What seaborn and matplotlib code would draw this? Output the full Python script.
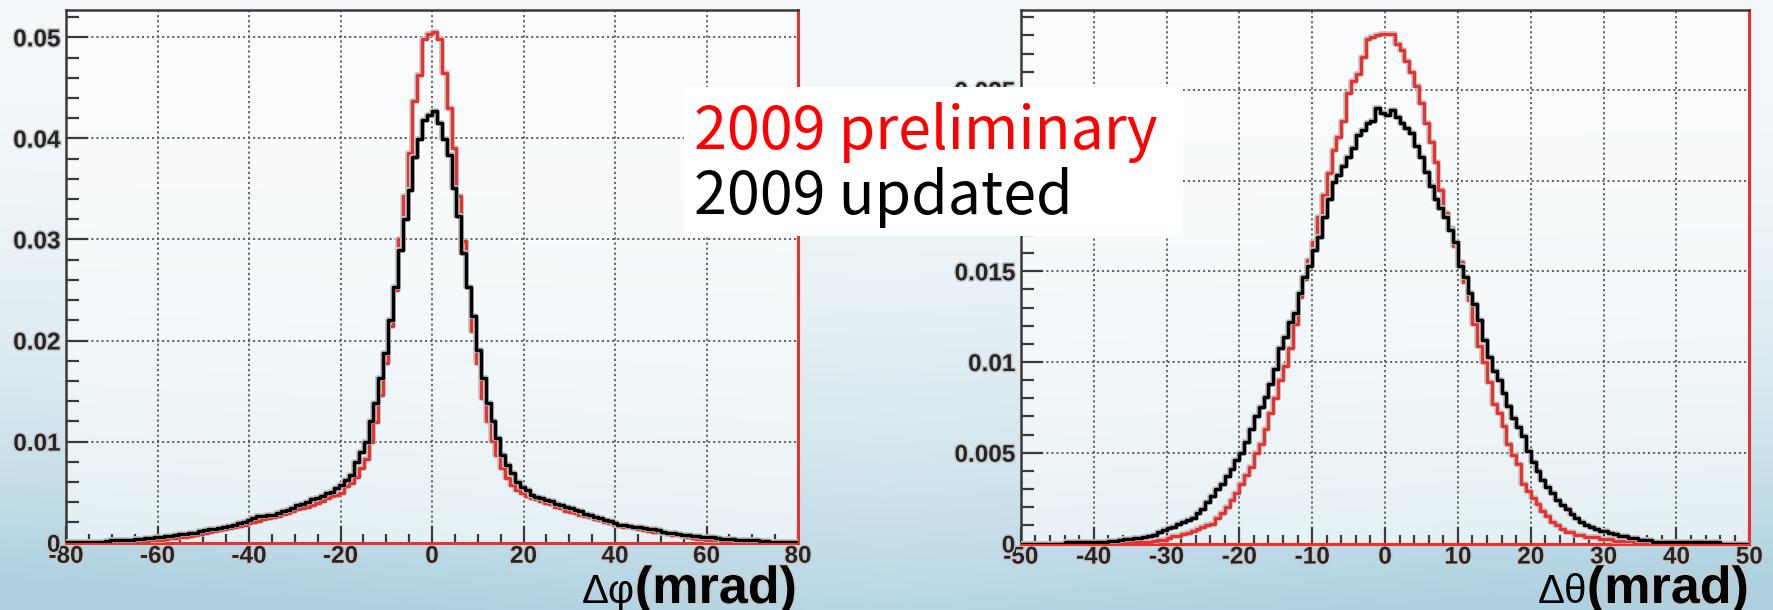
import numpy as np
import pandas as pd
import matplotlib
matplotlib.use("Agg")
import matplotlib.pyplot as plt
import matplotlib.patheffects as pe
from matplotlib.patches import Rectangle
from matplotlib.ticker import MultipleLocator, FuncFormatter
import seaborn as sns

# ---------------- data (bin contents) ----------------
phi_range = (-80.0, 80.0)
theta_range = (-50.0, 50.0)
n_bins = 150

phi_2009_preliminary = [
    0, 0, 0, 0, 0, 0, 0, 0, 0.0001, 0.0001,
    0.0001, 0.0001, 0.0001, 0.0002, 0.0002, 0.0002, 0.0002, 0.0003, 0.0003, 0.0003,
    0.0004, 0.0005, 0.0005, 0.0006, 0.0006, 0.0007, 0.0008, 0.0009, 0.0010, 0.0011,
    0.0012, 0.0013, 0.0014, 0.0015, 0.0016, 0.0017, 0.0018, 0.0019, 0.0020, 0.0021,
    0.0023, 0.0024, 0.0025, 0.0026, 0.0028, 0.0029, 0.0031, 0.0033, 0.0034, 0.0035,
    0.0037, 0.0039, 0.0041, 0.0044, 0.0046, 0.0047, 0.0049, 0.0056, 0.0059, 0.0065,
    0.0074, 0.0083, 0.0100, 0.0119, 0.0146, 0.0178, 0.0214, 0.0250, 0.0300, 0.0343,
    0.0386, 0.0437, 0.0463, 0.0498, 0.0503, 0.0505, 0.0498, 0.0465, 0.0430, 0.0390,
    0.0343, 0.0298, 0.0253, 0.0209, 0.0178, 0.0143, 0.0120, 0.0101, 0.0087, 0.0074,
    0.0064, 0.0057, 0.0052, 0.0049, 0.0046, 0.0044, 0.0043, 0.0041, 0.0039, 0.0038,
    0.0035, 0.0034, 0.0031, 0.0030, 0.0029, 0.0027, 0.0026, 0.0025, 0.0023, 0.0022,
    0.0020, 0.0019, 0.0018, 0.0017, 0.0016, 0.0016, 0.0015, 0.0014, 0.0013, 0.0012,
    0.0011, 0.0011, 0.0010, 0.0009, 0.0008, 0.0008, 0.0007, 0.0006, 0.0005, 0.0004,
    0.0004, 0.0003, 0.0003, 0.0003, 0.0002, 0.0002, 0.0002, 0.0001, 0.0001, 0.0001,
    0.0001, 0.0001, 0.0001, 0.0001, 0.0001, 0, 0, 0, 0, 0,
]

phi_2009_updated = [
    0.0001, 0.0001, 0.0001, 0.0001, 0.0001, 0.0001, 0.0001, 0.0001, 0.0002, 0.00025,
    0.00027, 0.00027, 0.0003, 0.0003, 0.00037, 0.0004, 0.00045, 0.0005, 0.00053, 0.0006,
    0.0007, 0.0007, 0.0008, 0.00086, 0.0009, 0.0010, 0.0010, 0.0012, 0.00126, 0.0014,
    0.0014, 0.0015, 0.0016, 0.0017, 0.00175, 0.0019, 0.0020, 0.0022, 0.0024, 0.0026,
    0.0026, 0.0027, 0.0027, 0.0029, 0.0031, 0.0032, 0.0034, 0.0037, 0.0038, 0.0040,
    0.0043, 0.0044, 0.0046, 0.0049, 0.0050, 0.0054, 0.0057, 0.0062, 0.0067, 0.0080,
    0.0090, 0.0100, 0.0120, 0.0138, 0.0163, 0.0188, 0.0220, 0.0253, 0.0290, 0.0320,
    0.0349, 0.0382, 0.0399, 0.0418, 0.0423, 0.0427, 0.0415, 0.0399, 0.0384, 0.0351,
    0.0323, 0.0287, 0.0253, 0.0224, 0.0191, 0.0163, 0.0138, 0.0120, 0.0104, 0.0087,
    0.0077, 0.0069, 0.0060, 0.0055, 0.0052, 0.0047, 0.0045, 0.0044, 0.0042, 0.0041,
    0.0038, 0.0037, 0.0035, 0.0034, 0.0032, 0.0031, 0.0028, 0.0027, 0.0025, 0.0024,
    0.0022, 0.0021, 0.0019, 0.0018, 0.0018, 0.0017, 0.0016, 0.0016, 0.0015, 0.0014,
    0.0014, 0.0013, 0.0011, 0.0010, 0.0010, 0.0009, 0.0008, 0.0008, 0.0007, 0.0007,
    0.0006, 0.0006, 0.0006, 0.0005, 0.0004, 0.0004, 0.0004, 0.0003, 0.0003, 0.0003,
    0.0003, 0.0003, 0.0002, 0.0002, 0.0001, 0.0001, 0.0001, 0.0001, 0.0001, 0.0001,
]

theta_2009_preliminary = [
    0, 0, 0, 0, 0, 0, 0, 0, 0, 0,
    0, 0, 0, 0, 0, 0, 0, 0, 0, 0.0001,
    0.0001, 0.0001, 0.0001, 0.0001, 0.0001, 0.0001, 0.0001, 0.00015, 0.0002, 0.0002,
    0.0003, 0.0004, 0.0004, 0.0005, 0.0006, 0.0007, 0.0008, 0.0009, 0.0010, 0.0011,
    0.0014, 0.0017, 0.0020, 0.0024, 0.0028, 0.0033, 0.0038, 0.0042, 0.0050, 0.0055,
    0.0063, 0.0072, 0.0080, 0.0090, 0.0098, 0.0108, 0.0121, 0.0136, 0.0146, 0.0156,
    0.0166, 0.0180, 0.0192, 0.0204, 0.0217, 0.0224, 0.0233, 0.0248, 0.0255, 0.0259,
    0.0268, 0.0278, 0.0279, 0.0280, 0.0281, 0.0281, 0.0281, 0.0275, 0.0272, 0.0266,
    0.0260, 0.0252, 0.0243, 0.0232, 0.0221, 0.0210, 0.0195, 0.0182, 0.0174, 0.0164,
    0.0155, 0.0144, 0.0134, 0.0121, 0.0109, 0.0100, 0.0089, 0.0077, 0.0072, 0.0065,
    0.0055, 0.0049, 0.0044, 0.0033, 0.0029, 0.0025, 0.0022, 0.0018, 0.0015, 0.0012,
    0.0010, 0.0008, 0.00065, 0.00065, 0.00047, 0.00047, 0.00034, 0.00034, 0.00034, 0.00023,
    0.00023, 0.00023, 0.00015, 0.00015, 0.00015, 0.00015, 0.0001, 0.0001, 0.0001, 0,
    0, 0, 0, 0, 0, 0, 0, 0, 0, 0,
    0, 0, 0, 0, 0, 0, 0, 0, 0, 0,
]

theta_2009_updated = [
    0, 0, 0, 0, 0, 0, 0, 0, 0, 0.0001,
    0.0001, 0.0001, 0.0001, 0.0001, 0.0001, 0.0001, 0.0001, 0.0001, 0.00015, 0.00015,
    0.0002, 0.00023, 0.00026, 0.00029, 0.00033, 0.00038, 0.00042, 0.00047, 0.00065, 0.00075,
    0.00084, 0.00093, 0.0011, 0.0012, 0.0013, 0.0014, 0.0017, 0.0019, 0.0023, 0.0026,
    0.0030, 0.0033, 0.0037, 0.0041, 0.0046, 0.0050, 0.0056, 0.0063, 0.0070, 0.0075,
    0.0081, 0.0088, 0.0096, 0.0108, 0.0114, 0.0122, 0.0127, 0.0138, 0.0147, 0.0153,
    0.0162, 0.0169, 0.0180, 0.0190, 0.0199, 0.0203, 0.0208, 0.0213, 0.0218, 0.0225,
    0.0228, 0.0232, 0.0233, 0.0240, 0.0237, 0.0236, 0.0239, 0.0235, 0.0232, 0.0229,
    0.0226, 0.0219, 0.0213, 0.0205, 0.0197, 0.0190, 0.0185, 0.0180, 0.0173, 0.0166,
    0.0153, 0.0147, 0.0138, 0.0132, 0.0123, 0.0112, 0.0103, 0.0095, 0.0090, 0.0083,
    0.0076, 0.0069, 0.0064, 0.0059, 0.0051, 0.0045, 0.0040, 0.0035, 0.0031, 0.0028,
    0.0024, 0.0021, 0.0019, 0.0016, 0.0014, 0.0012, 0.0010, 0.0009, 0.0008, 0.0007,
    0.0007, 0.0006, 0.0005, 0.0004, 0.0004, 0.0003, 0.0003, 0.0002, 0.0002, 0.0002,
    0.0001, 0.0001, 0.0001, 0.0001, 0.0001, 0.0001, 0.0001, 0.0001, 0.0001, 0.0001,
    0.0001, 0.0001, 0.0001, 0.0001, 0, 0, 0, 0, 0, 0,
]

legend_labels = ["2009 preliminary", "2009 updated"]
xlabels = [("\u0394\u03c6", "(mrad)"), ("\u0394\u03b8", "(mrad)")]

# ---------------- styling ----------------
sns.set_style("ticks")
plt.rcParams["font.family"] = ["Liberation Sans", "DejaVu Sans"]

RED = "#e8322d"
BLACK = "#000000"
FRAME = "#3a3a3a"
HALO = [pe.withStroke(linewidth=2.2, foreground="#c9c9c9")]

W, H = 1773, 610
fig = plt.figure(figsize=(W / 100, H / 100), dpi=100)

# background gradient (slide theme)
bg = fig.add_axes([0, 0, 1, 1], zorder=-10)
ny, nx = 200, 300
t = np.linspace(0, 1, ny)[:, None]
s = np.linspace(0, 1, nx)[None, :]
top = np.array([0.955, 0.972, 0.980])
bot = np.array([0.68, 0.82, 0.88])
mix = (t ** 2.2) * (0.85 + 0.25 * np.abs(s - 0.5) * 2)
mix = np.clip(mix, 0, 1)[..., None]
img = top * (1 - mix) + bot * mix
bg.imshow(img, aspect="auto", extent=[0, 1, 0, 1], origin="upper")
bg.set_axis_off()


def make_axes(left_px, right_px, top_px, bottom_px):
    return fig.add_axes([left_px / W, 1 - bottom_px / H,
                         (right_px - left_px) / W, (bottom_px - top_px) / H])


def draw_panel(ax, rng, red_vals, black_vals, ytop, xmaj, xmin_, ymaj, ymin_):
    edges = list(np.linspace(rng[0], rng[1], n_bins + 1))
    centers = [0.5 * (a + b) for a, b in zip(edges[:-1], edges[1:])]
    df = pd.DataFrame({
        "x": centers + centers,
        "w": list(red_vals) + list(black_vals),
        "series": [legend_labels[0]] * n_bins + [legend_labels[1]] * n_bins,
    })
    ax.set_facecolor((1, 1, 1, 0.6))
    for name, col, lw, z in [(legend_labels[0], RED, 2.3, 3), (legend_labels[1], BLACK, 2.5, 4)]:
        sub = df[df["series"] == name]
        sns.histplot(data=sub, x="x", weights="w", bins=edges, element="step",
                     fill=False, color=col, linewidth=lw, ax=ax, zorder=z)
    for ln in ax.lines:
        ln.set_path_effects([pe.Stroke(linewidth=ln.get_linewidth() + 1.8,
                                       foreground="#c4c4c4"), pe.Normal()])
    ax.set_xlim(rng)
    ax.set_ylim(0, ytop)
    ax.set_xlabel("")
    ax.set_ylabel("")
    ax.xaxis.set_major_locator(MultipleLocator(xmaj))
    ax.xaxis.set_minor_locator(MultipleLocator(xmin_))
    ax.yaxis.set_major_locator(MultipleLocator(ymaj))
    ax.yaxis.set_minor_locator(MultipleLocator(ymin_))
    ax.xaxis.set_major_formatter(FuncFormatter(lambda v, p: f"{v:g}"))
    ax.yaxis.set_major_formatter(FuncFormatter(lambda v, p: f"{round(v, 4):g}"))
    ax.grid(True, which="major", linestyle=(0, (1.2, 1.6)), color="#5a5a5a",
            linewidth=1.3, zorder=1)
    ax.set_axisbelow(True)
    ax.tick_params(which="both", direction="in", color=FRAME, width=1.6,
                   top=False, right=False)
    ax.tick_params(axis="y", which="major", length=16, pad=4, labelsize=17.5)
    ax.tick_params(axis="y", which="minor", length=9)
    ax.tick_params(axis="x", which="major", length=12, pad=1.5, labelsize=17.5)
    ax.tick_params(axis="x", which="minor", length=6.5)
    for lab in ax.get_xticklabels() + ax.get_yticklabels():
        lab.set_fontweight("bold")
        lab.set_path_effects(HALO)
    for side in ["left", "top"]:
        ax.spines[side].set_color(FRAME)
        ax.spines[side].set_linewidth(1.8)
    for side in ["right", "bottom"]:
        ax.spines[side].set_color(RED)
        ax.spines[side].set_linewidth(2.2)


ax1 = make_axes(66, 798, 10, 542.7)
draw_panel(ax1, phi_range, phi_2009_preliminary, phi_2009_updated,
           0.0527, 20, 5, 0.01, 0.002)
ax2 = make_axes(1020.8, 1749.3, 10, 543.5)
draw_panel(ax2, theta_range, theta_2009_preliminary, theta_2009_updated,
           0.0294, 10, 2, 0.005, 0.001)

# axis titles (ROOT style, bottom right)
fig.canvas.draw()
renderer = fig.canvas.get_renderer()
for (greek, unit), right_px in zip(xlabels, [797, 1749]):
    tu = fig.text(right_px / W, 7 / H, unit, ha="right", va="baseline",
                  fontsize=37.5, fontweight="bold", color="black", zorder=20,
                  path_effects=HALO)
    bb = tu.get_window_extent(renderer)
    fig.text(bb.x0 / W, 7 / H, greek, ha="right", va="baseline",
             fontsize=29, fontweight="normal", color="black", zorder=20)

# legend box
fig.patches.append(Rectangle((684 / W, 1 - 236 / H), (1183 - 684) / W, (236 - 87) / H,
                             transform=fig.transFigure, facecolor="white",
                             edgecolor="none", zorder=30))
fig.text(694 / W, 1 - 149 / H, legend_labels[0], color="#ff0000", fontsize=42.5,
         family=["Noto Sans CJK JP", "DejaVu Sans"], ha="left", va="baseline", zorder=31)
fig.text(694 / W, 1 - 214 / H, legend_labels[1], color="black", fontsize=42.5,
         family=["Noto Sans CJK JP", "DejaVu Sans"], ha="left", va="baseline", zorder=31)

fig.savefig("out.png", dpi=100)
